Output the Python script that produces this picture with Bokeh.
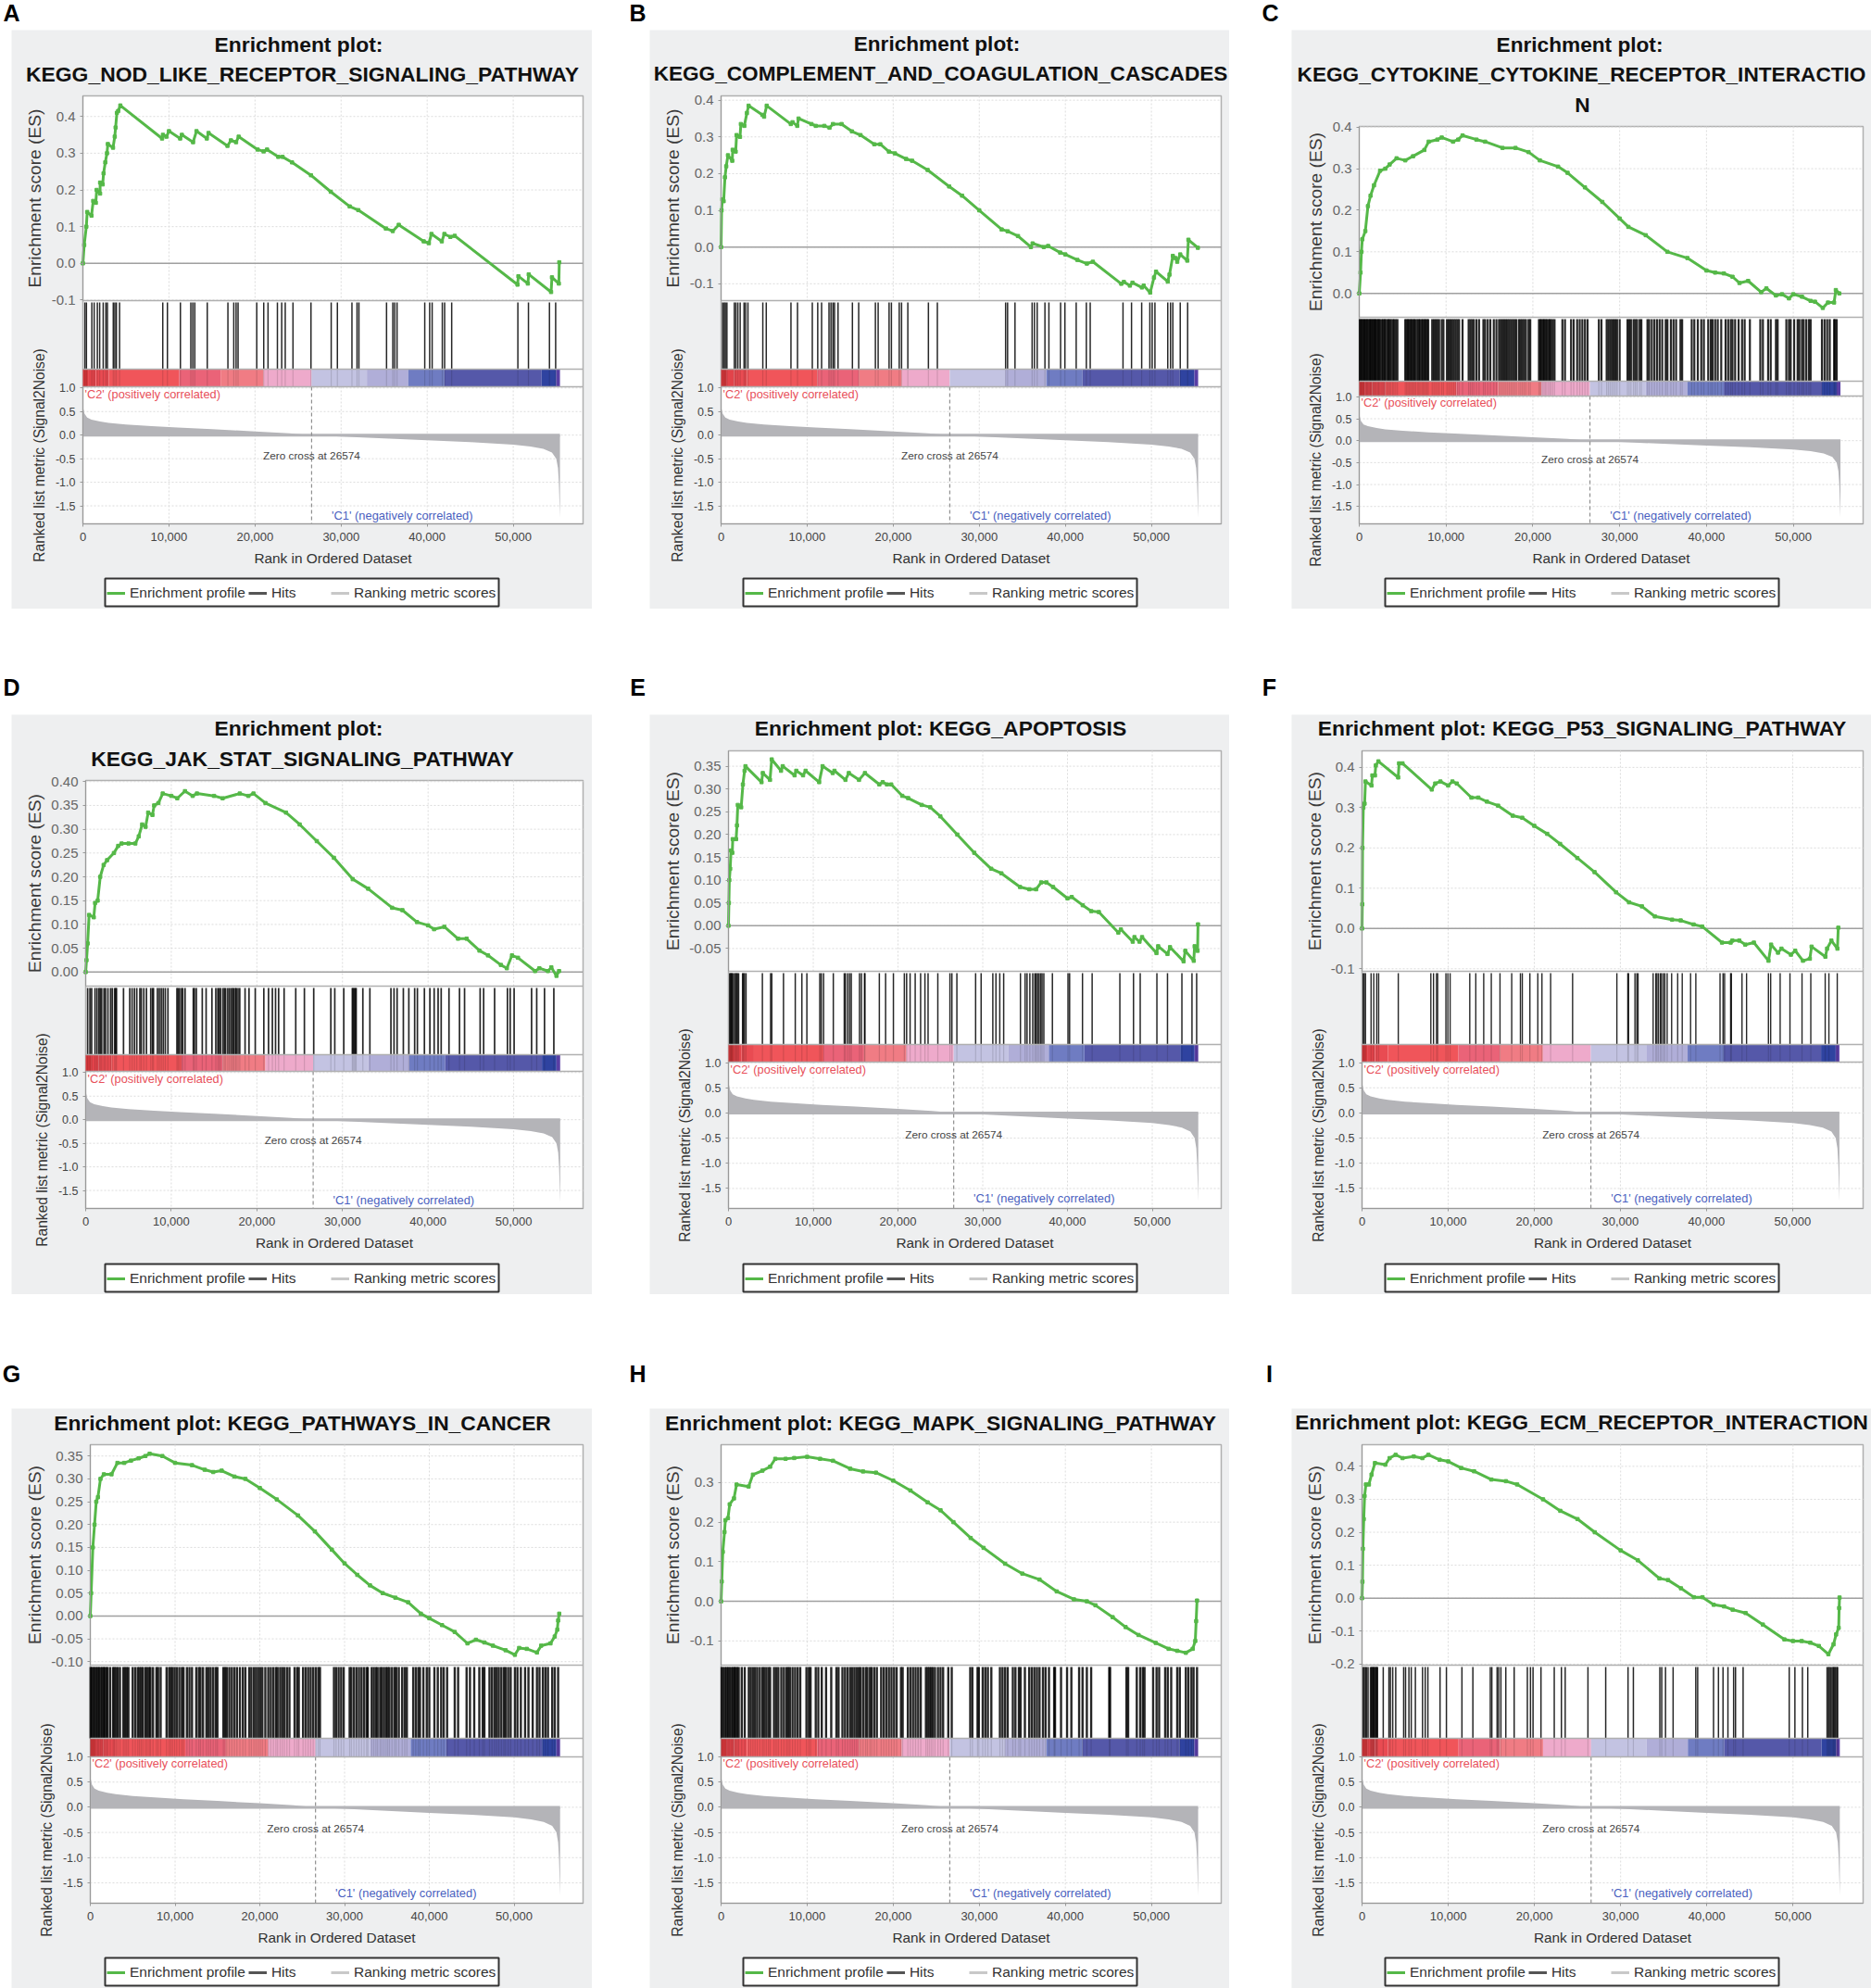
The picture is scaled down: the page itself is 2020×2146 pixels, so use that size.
from bokeh.embed import file_html
from bokeh.layouts import column, row
from bokeh.models import (FixedTicker, Label, Legend, LegendItem, LinearAxis,
                          NumeralTickFormatter, Range1d, Spacer)
from bokeh.plotting import figure
from bokeh.resources import INLINE
from bokeh.core.properties import value

FONT = "Liberation Sans"

# enrichment profile of each panel, (rank, ES)
es_a = [(0,0),(150,0.05),(400,0.10),(500,0.14),(1000,0.13),(1200,0.17),(1500,0.165),(1600,0.2),(2000,0.19),(2000,0.22),(2300,0.215),(2400,0.245),(2600,0.275),(2800,0.30),(2900,0.325),(3500,0.315),(3700,0.345),(3800,0.37),(3950,0.41),(4100,0.415),(4350,0.43),(9200,0.34),(9300,0.35),(9700,0.345),(10000,0.36),(11300,0.34),(11500,0.35),(12800,0.33),(13200,0.36),(14400,0.34),(14600,0.355),(16800,0.32),(17200,0.335),(17800,0.33),(18100,0.345),(20300,0.31),(21000,0.305),(21400,0.31),(22700,0.29),(23200,0.29),(24300,0.275),(26500,0.24),(28800,0.195),(31000,0.155),(32000,0.145),(35200,0.095),(36000,0.088),(36700,0.105),(39600,0.06),(40200,0.055),(40500,0.08),(41700,0.06),(42000,0.08),(42700,0.072),(43200,0.075),(50500,-0.058),(50600,-0.035),(51700,-0.055),(51800,-0.03),(54400,-0.078),(54500,-0.038),(55300,-0.055),(55350,0.003)]
es_b = [(0,0),(60,0.1),(150,0.13),(300,0.125),(450,0.19),(600,0.22),(800,0.25),(1300,0.235),(1350,0.265),(1700,0.26),(1800,0.305),(2200,0.30),(2300,0.335),(2700,0.33),(3000,0.365),(3200,0.385),(4800,0.36),(5000,0.355),(5300,0.385),(8100,0.335),(8300,0.34),(8850,0.33),(9000,0.35),(10500,0.335),(11000,0.33),(12000,0.33),(12600,0.325),(13000,0.335),(14000,0.335),(15200,0.315),(16200,0.305),(17800,0.28),(18500,0.28),(19500,0.26),(20200,0.255),(21500,0.24),(22200,0.235),(24000,0.21),(26500,0.165),(28000,0.14),(30000,0.10),(32600,0.048),(33300,0.043),(34500,0.03),(36000,0.0),(36200,0.01),(37500,0.0),(38000,0.003),(39400,-0.015),(40000,-0.02),(41400,-0.035),(42500,-0.045),(43200,-0.04),(46500,-0.10),(46800,-0.095),(47500,-0.105),(47800,-0.097),(48900,-0.11),(49100,-0.105),(49860,-0.124),(50300,-0.083),(50540,-0.067),(51900,-0.094),(52100,-0.075),(52490,-0.024),(52800,-0.03),(53000,-0.04),(53350,-0.02),(54170,-0.037),(54300,0.02),(55400,-0.002)]
es_c = [(0,0),(150,0.05),(250,0.10),(350,0.13),(700,0.15),(1000,0.21),(1300,0.235),(1700,0.26),(2400,0.295),(3000,0.30),(3500,0.31),(4300,0.325),(5300,0.32),(6200,0.33),(7500,0.345),(8000,0.365),(9000,0.37),(9500,0.375),(10800,0.365),(11400,0.37),(11900,0.38),(13500,0.37),(14500,0.365),(16500,0.35),(18000,0.35),(19500,0.34),(20800,0.32),(22900,0.305),(24000,0.29),(26000,0.255),(28000,0.22),(30000,0.18),(31000,0.16),(33000,0.14),(35500,0.1),(37800,0.085),(40000,0.055),(41000,0.05),(42000,0.048),(43000,0.04),(43800,0.025),(44800,0.03),(46300,0.003),(46900,0.012),(48000,-0.005),(48700,-0.002),(49500,-0.012),(50000,-0.002),(51000,-0.008),(52000,-0.018),(52500,-0.02),(53400,-0.035),(54000,-0.022),(54700,-0.022),(54900,0.008),(55300,0.0)]
es_d = [(0,0),(100,0.025),(230,0.06),(400,0.12),(950,0.115),(1100,0.145),(1400,0.15),(1700,0.20),(2100,0.225),(2500,0.235),(3300,0.25),(3800,0.265),(4200,0.27),(5000,0.27),(5800,0.27),(6200,0.285),(6600,0.31),(7000,0.305),(7300,0.335),(7800,0.33),(8000,0.35),(8500,0.355),(9000,0.375),(10000,0.37),(10700,0.365),(11600,0.38),(12500,0.37),(13000,0.375),(15000,0.37),(16000,0.365),(18000,0.375),(19000,0.37),(19600,0.375),(21000,0.355),(23400,0.335),(25000,0.31),(27000,0.275),(29000,0.24),(31200,0.195),(33000,0.175),(35800,0.135),(37000,0.13),(38700,0.105),(40000,0.098),(40700,0.09),(41900,0.095),(43500,0.07),(44500,0.07),(46000,0.045),(47000,0.035),(48500,0.015),(49200,0.008),(49800,0.035),(50500,0.03),(52500,0.002),(53000,0.008),(54000,0.002),(54400,0.01),(55000,-0.008),(55300,0.002)]
es_e = [(0,0),(50,0.05),(100,0.10),(200,0.125),(300,0.165),(450,0.16),(500,0.19),(900,0.19),(1000,0.22),(1100,0.265),(1500,0.26),(1700,0.31),(1900,0.34),(2000,0.35),(3900,0.315),(4050,0.335),(4900,0.32),(5100,0.365),(6200,0.34),(6400,0.35),(7800,0.33),(8000,0.34),(8800,0.33),(9100,0.34),(10700,0.315),(11100,0.35),(12300,0.335),(12500,0.34),(13800,0.32),(14200,0.335),(15400,0.32),(16100,0.335),(17800,0.31),(18200,0.315),(18700,0.31),(19200,0.31),(20500,0.285),(21200,0.28),(22800,0.265),(23800,0.26),(25000,0.24),(27000,0.20),(29000,0.16),(31000,0.125),(32200,0.115),(34400,0.085),(35500,0.08),(36300,0.08),(36900,0.095),(37500,0.095),(38300,0.085),(40000,0.06),(40500,0.063),(41800,0.045),(42800,0.032),(43700,0.03),(46000,-0.015),(46300,-0.008),(47700,-0.035),(47900,-0.025),(48500,-0.035),(48800,-0.025),(50500,-0.06),(50700,-0.045),(51800,-0.062),(52100,-0.047),(53700,-0.078),(53900,-0.055),(54900,-0.077),(55000,-0.045),(55350,-0.055),(55400,0.003)]
es_f = [(0,0),(30,0.06),(60,0.2),(150,0.3),(300,0.31),(400,0.365),(1100,0.355),(1200,0.38),(1500,0.38),(1600,0.405),(1900,0.415),(4200,0.375),(4300,0.41),(4700,0.41),(8100,0.345),(8500,0.36),(9100,0.365),(10000,0.355),(10500,0.365),(11000,0.36),(12700,0.325),(13500,0.325),(14500,0.315),(15800,0.305),(17500,0.28),(18600,0.275),(20000,0.255),(21500,0.235),(23000,0.21),(25000,0.175),(27000,0.14),(29500,0.09),(31000,0.065),(32500,0.055),(34000,0.03),(36000,0.022),(37000,0.02),(38500,0.01),(39500,0.005),(41800,-0.035),(42800,-0.035),(43000,-0.03),(43800,-0.03),(44500,-0.04),(45500,-0.035),(47200,-0.08),(47500,-0.04),(48300,-0.06),(48700,-0.05),(49800,-0.065),(50300,-0.055),(51200,-0.08),(52000,-0.075),(52200,-0.045),(53800,-0.07),(54000,-0.05),(54500,-0.03),(55200,-0.05),(55300,0.002)]
es_g = [(0,0),(100,0.05),(300,0.15),(500,0.20),(700,0.25),(900,0.26),(1200,0.30),(1600,0.31),(2500,0.31),(3200,0.335),(4000,0.335),(4800,0.34),(5700,0.345),(6500,0.35),(7000,0.355),(8500,0.35),(10000,0.335),(12000,0.33),(13500,0.32),(14500,0.315),(15500,0.318),(17000,0.305),(18300,0.30),(20000,0.28),(22000,0.255),(24500,0.22),(26500,0.185),(28500,0.145),(30000,0.115),(31500,0.09),(33000,0.067),(34500,0.05),(36000,0.04),(37500,0.03),(39000,0.005),(40000,-0.005),(41500,-0.02),(43000,-0.035),(44500,-0.06),(45500,-0.052),(46500,-0.058),(47500,-0.065),(49000,-0.075),(50100,-0.085),(50600,-0.07),(51500,-0.072),(52700,-0.08),(53200,-0.065),(54300,-0.06),(54800,-0.045),(55100,-0.03),(55200,-0.01),(55330,0.005)]
es_h = [(0,0),(80,0.05),(200,0.125),(400,0.175),(500,0.205),(800,0.21),(1000,0.245),(1500,0.26),(1800,0.295),(3200,0.29),(3700,0.32),(4800,0.33),(5700,0.34),(6300,0.36),(7500,0.36),(8500,0.362),(10000,0.365),(11500,0.36),(13000,0.355),(15000,0.335),(16500,0.328),(18000,0.325),(20000,0.305),(22000,0.28),(24000,0.25),(25500,0.23),(27000,0.20),(29000,0.16),(30500,0.135),(33000,0.095),(35000,0.07),(37000,0.055),(39000,0.025),(41000,0.005),(42500,0.0),(43500,-0.01),(45500,-0.04),(47000,-0.065),(48500,-0.085),(50500,-0.105),(52000,-0.12),(53000,-0.125),(54000,-0.13),(54800,-0.12),(55100,-0.10),(55200,-0.05),(55300,0.002)]
es_i = [(0,0),(50,0.05),(100,0.15),(200,0.24),(300,0.31),(450,0.345),(800,0.345),(1100,0.375),(1500,0.41),(2700,0.405),(3200,0.425),(3900,0.435),(4700,0.425),(6000,0.43),(7000,0.425),(7700,0.435),(9000,0.42),(10000,0.415),(11500,0.395),(13000,0.385),(15000,0.36),(16700,0.355),(18000,0.345),(21000,0.30),(23000,0.265),(25000,0.24),(27000,0.20),(30000,0.145),(32000,0.115),(34500,0.06),(35500,0.055),(37000,0.03),(38500,0.003),(39500,0.003),(40800,-0.02),(42000,-0.025),(43000,-0.035),(44500,-0.045),(46500,-0.08),(49000,-0.125),(50000,-0.13),(51000,-0.13),(52000,-0.135),(53000,-0.145),(54100,-0.17),(54700,-0.14),(55000,-0.11),(55300,-0.09),(55350,-0.03),(55400,0.002)]

# hit positions of each panel
hits_a = [230,410,1040,1310,1680,1950,2360,2670,2850,3530,3710,3890,4260,9280,9820,11330,12540,12770,13000,14450,16850,17530,17800,18030,20200,21010,21510,22600,23100,23510,24410,26500,28850,29570,31260,31850,32070,35280,36010,36230,36500,39720,40290,40580,41760,42030,42850,50540,51770,54210,54930]
hits_b = [180,360,500,680,1540,1720,1950,2220,2670,2850,3120,4850,5250,8120,8880,10600,11230,11680,12540,12770,13000,13180,13590,15260,15990,17930,18250,19520,19790,20700,20970,21700,24090,25130,33060,33290,34150,36140,36410,36730,37630,38090,39450,39950,41260,42440,42890,46700,47690,48870,49820,50090,50410,51900,52220,52490,53350,54210]
hits_c = [60,200,300,450,560,700,850,950,1100,1250,1350,1500,1600,1750,1850,2000,2150,2250,2400,2600,2750,2900,3000,3200,3350,3500,3650,3850,4000,4200,4400,5300,5450,5600,5750,5900,6050,6200,6350,6500,6700,6850,7000,7200,7350,7500,7650,7800,7950,8400,8600,8800,9000,9200,9500,9700,10100,10300,10500,10700,10900,11100,11300,11500,11900,12600,12800,13000,13200,13500,13800,14300,14500,14800,15100,15500,15800,16100,16300,16500,16700,16900,17100,17300,17500,17700,17900,18100,18400,18600,18800,19000,19200,19500,19700,20700,20850,21000,21150,21300,21450,21600,21800,21950,22100,22300,22500,23400,23700,24400,24700,25100,25400,25700,26000,26300,27600,27900,28500,28700,28900,29100,29300,29500,29700,30000,30900,31100,31300,31600,31800,32000,32300,32500,33200,33400,33700,34000,34300,34600,34900,35300,35500,35900,36200,36500,37000,37200,38300,38600,39000,39400,39700,40200,40500,40700,41000,41300,41700,42200,42500,42800,43000,43300,43700,44100,44400,45000,46200,46500,47100,47400,48000,48200,49200,49500,49700,50100,50500,50700,51000,51200,51500,51800,52000,53300,53600,53900,54200,54700,54800,55000]
hits_d = [230,500,700,1090,1320,1550,1700,1870,2140,2320,2600,2910,3100,3370,3500,3600,4420,5150,5420,5700,5970,6330,6500,6790,7100,7600,7800,7920,8380,8600,8830,9060,9300,9610,10660,10800,10970,11200,11340,11610,12570,12700,12930,13620,14070,14750,15200,15440,15600,15760,16030,16200,16350,16600,16800,17000,17170,17300,17490,17600,17800,18000,18620,19080,19810,20810,21360,21810,22180,22540,23180,24540,25550,26640,28640,29100,30150,31150,31250,31380,31500,31600,32380,33200,35660,36020,36380,37110,37750,38430,38750,39570,40210,40710,41170,41530,42440,43670,44260,46080,46490,47770,49270,49590,50050,52090,52690,53600,54690]
hits_e = [140,250,320,420,510,700,830,950,1060,1200,1660,1750,1890,2070,4000,4970,5110,6490,7880,8660,9250,10770,10950,11220,12370,13660,13800,14070,14300,14490,15460,15690,16050,16100,17800,18540,19460,20750,21020,21430,22030,22670,23180,23550,24700,26130,26360,26950,29160,29810,31190,31560,32010,32470,34450,35000,35230,35560,35900,36150,36300,36470,36650,36840,37000,37210,38220,40060,40250,41770,42910,46180,47790,48580,50550,51800,53500,54690,55240]
hits_f = [130,260,400,1050,1360,1710,1930,4210,7990,8300,8650,8780,9740,9970,10230,12510,13210,14130,15010,16020,17380,18390,18610,19490,20410,20890,21900,24450,29590,30860,30950,31690,31910,32050,33800,34110,34240,34420,34640,34770,34990,35160,35430,35950,36650,37180,38150,38760,41570,41920,42100,42800,42890,44120,44650,47190,47450,48550,49690,51090,52110,53780,54210,55180]
hits_g = [30,180,350,520,700,880,1020,1220,1400,1560,1700,1900,2050,2350,2700,2850,3050,3250,3500,3900,4100,4300,4500,5000,5300,5600,5800,6000,6200,6500,6700,6950,7100,7400,7800,8000,8300,9000,9300,9500,9700,9950,10200,10500,10800,11000,11400,11700,12000,12500,12800,13000,13300,13700,13950,14200,14500,14800,15000,15700,15900,16100,16400,16700,17000,17300,17650,18000,18300,18750,19000,19300,19550,19800,20050,20300,20650,21000,21300,21600,21900,22100,22400,22650,22900,23200,23500,24100,24400,24600,25100,25400,25700,26000,26300,26600,26900,27100,28750,29000,29300,29600,29900,30600,30800,31100,31400,31700,32000,32300,32600,32750,33200,33450,33700,33900,34200,34400,34650,34900,35100,35300,35600,35900,36100,36400,36800,37100,37350,38100,38400,38700,38900,39300,39700,40000,40600,41000,41400,41700,42100,43000,43400,44400,44800,45300,45900,46300,46500,47100,47400,47700,47950,48200,48500,48800,49000,49300,49600,50100,50400,50800,51300,51700,52200,52700,53000,53400,53700,54000,54500,54800,55200]
hits_h = [60,250,480,650,830,1000,1220,1400,1550,1700,1880,2050,2400,2750,3220,3450,3700,3950,4200,4500,4800,5000,5250,5500,5700,6150,6400,6650,7000,7300,7600,7800,8000,8300,8600,8900,9200,9920,10200,10400,11000,11300,11700,12200,12800,13400,13650,14100,14400,14700,15000,15250,15500,15750,16000,16200,16500,16800,17000,17300,17500,17800,18100,18600,18900,19200,19500,19800,20100,20400,20900,21100,21700,22000,22300,22600,22900,23200,23800,24000,24200,24400,24600,24850,25200,25500,25800,26400,26800,28950,29200,29800,29950,30400,30700,31000,31400,32400,32700,33000,33300,33900,34200,34600,34800,35300,35800,36100,36400,36700,37000,37400,37700,38100,38700,38800,39500,40200,40700,41600,42000,42500,43000,45100,45200,47100,47300,48300,48700,49000,49200,50200,50600,50900,51600,51900,52300,53000,53300,54000,54300,54650,54900,55300]
hits_i = [130,260,400,530,700,970,1100,1150,1270,1350,1400,1540,1620,1710,1800,2460,3120,3290,3560,3910,4830,5050,5440,5710,6190,7020,7330,7640,9050,9790,11590,12860,14880,15060,15670,15850,16110,16680,17650,19180,19540,19840,20760,22300,23130,23570,26210,28270,30860,31480,34550,34770,35210,36090,38720,38940,40780,41350,41880,42450,43110,43330,44210,49560,50220,51090,51710,53950,54100,54210,54350,54520,54650,54740,54850,54960,55100,55180]

# colour band, the same in all panels
band_edges = [0,600,1500,3000,11200,16000,21000,26574,33000,37800,42000,53300,55000,55430]
band_colors = ["#d8383c","#e2434a","#e94b52","#f0555a","#ea6378","#f07c84","#eeaacb","#c3c3e2","#b0aed8","#6f7cc2","#5558a9","#2f43a0","#5a3fa5"]

# ranked list metric, the same in all panels
metric_rank = [0,200,500,1000,2000,3000,5000,8000,11000,15000,20000,24000,26574,30000,35000,40000,45000,50000,52000,53500,54500,55000,55200,55300,55430]
metric_val = [0.6,0.45,0.37,0.33,0.29,0.26,0.225,0.19,0.16,0.125,0.08,0.04,0.0,-0.03,-0.07,-0.11,-0.15,-0.2,-0.24,-0.29,-0.37,-0.5,-0.7,-1.0,-1.75]

metric_ticks = [1.0,0.5,0.0,-0.5,-1.0,-1.5]
rank_ticks = [0,10000,20000,30000,40000,50000]
ZERO_CROSS = 26574

# layout of each panel in picture pixels: box is the grey card, the frame edges
# and section lines are y positions, es0/es_scale and m0/m_scale calibrate the y axes
panels = [
    dict(es=es_a, hits=hits_a, hit_w=1.5, title_size="22.9px", titles=[("Enrichment plot:", 47, 322), ("KEGG_NOD_LIKE_RECEPTOR_SIGNALING_PATHWAY", 79, 326)],
         box=(12,32,639,657), left=89, right=629, top=103, es_b=324, hit_b=398, band_b=417, rank_b=565, px50k=464.6,
         es0=283.8, es_scale=396.4, m0=469.2, m_scale=50.9, es_ticks=[-0.1,0,0.1,0.2,0.3,0.4], es_fmt="0.0", es_lab=52),
    dict(es=es_b, hits=hits_b, hit_w=1.5, title_size="22.6px", titles=[("Enrichment plot:", 47, 1011), ("KEGG_COMPLEMENT_AND_COAGULATION_CASCADES", 79, 1015)],
         box=(701,32,1327,657), left=778, right=1318, top=103, es_b=324, hit_b=398, band_b=417, rank_b=565, px50k=464.6,
         es0=266.2, es_scale=396.4, m0=469.2, m_scale=50.9, es_ticks=[-0.1,0,0.1,0.2,0.3,0.4], es_fmt="0.0", es_lab=52),
    dict(es=es_c, hits=hits_c, hit_w=2.2, title_size="22.65px", titles=[("Enrichment plot:", 47, 1705), ("KEGG_CYTOKINE_CYTOKINE_RECEPTOR_INTERACTIO", 79, 1707), ("N", 112, 1708)],
         box=(1394,32,2020,657), left=1467, right=2011, top=136, es_b=342, hit_b=411, band_b=427, rank_b=565, px50k=468.6,
         es0=316.2, es_scale=448.7, m0=475.2, m_scale=47.35, es_ticks=[0,0.1,0.2,0.3,0.4], es_fmt="0.0", es_lab=47),
    dict(es=es_d, hits=hits_d, hit_w=1.7, title_size="22.9px", titles=[("Enrichment plot:", 785.6, 322), ("KEGG_JAK_STAT_SIGNALING_PATHWAY", 818.5, 326)],
         box=(12,771,639,1397), left=92, right=629, top=842, es_b=1064, hit_b=1138, band_b=1156, rank_b=1304, px50k=462.1,
         es0=1048.8, es_scale=513.9, m0=1208.2, m_scale=50.9, es_ticks=[0,0.05,0.1,0.15,0.2,0.25,0.3,0.35,0.4], es_fmt="0.00", es_lab=55),
    dict(es=es_e, hits=hits_e, hit_w=1.5, title_size="22.9px", titles=[("Enrichment plot: KEGG_APOPTOSIS", 785.6, 1015)],
         box=(701,771,1327,1397), left=786, right=1318, top=810, es_b=1048, hit_b=1127, band_b=1146, rank_b=1304, px50k=457.5,
         es0=998.8, es_scale=492, m0=1200.9, m_scale=54.36, es_ticks=[-0.05,0,0.05,0.1,0.15,0.2,0.25,0.3,0.35], es_fmt="0.00", es_lab=60),
    dict(es=es_f, hits=hits_f, hit_w=1.4, title_size="22.9px", titles=[("Enrichment plot: KEGG_P53_SIGNALING_PATHWAY", 785.6, 1707.5)],
         box=(1394,771,2020,1397), left=1470, right=2011, top=810, es_b=1048, hit_b=1127, band_b=1146, rank_b=1304, px50k=464.9,
         es0=1001.8, es_scale=434.8, m0=1200.9, m_scale=54.36, es_ticks=[-0.1,0,0.1,0.2,0.3,0.4], es_fmt="0.0", es_lab=51),
    dict(es=es_g, hits=hits_g, hit_w=2.4, title_size="22.8px", titles=[("Enrichment plot: KEGG_PATHWAYS_IN_CANCER", 1535, 326)],
         box=(12,1520,639,2146), left=97, right=629, top=1559, es_b=1797, hit_b=1876, band_b=1896, rank_b=2054, px50k=457.5,
         es0=1743.9, es_scale=493.3, m0=1950.4, m_scale=54.36, es_ticks=[-0.1,-0.05,0,0.05,0.1,0.15,0.2,0.25,0.3,0.35], es_fmt="0.00", es_lab=60),
    dict(es=es_h, hits=hits_h, hit_w=2.4, title_size="22.8px", titles=[("Enrichment plot: KEGG_MAPK_SIGNALING_PATHWAY", 1535, 1015)],
         box=(701,1520,1327,2146), left=778, right=1318, top=1559, es_b=1797, hit_b=1876, band_b=1896, rank_b=2054, px50k=464.6,
         es0=1728.1, es_scale=427.4, m0=1950.4, m_scale=54.36, es_ticks=[-0.1,0,0.1,0.2,0.3], es_fmt="0.0", es_lab=52),
    dict(es=es_i, hits=hits_i, hit_w=1.5, title_size="22.55px", titles=[("Enrichment plot: KEGG_ECM_RECEPTOR_INTERACTION", 1535, 1707)],
         box=(1394,1520,2020,2146), left=1470, right=2011, top=1559, es_b=1797, hit_b=1876, band_b=1896, rank_b=2054, px50k=465.3,
         es0=1724.7, es_scale=355.8, m0=1950.4, m_scale=54.36, es_ticks=[-0.2,-0.1,0,0.1,0.2,0.3,0.4], es_fmt="0.0", es_lab=51),
]

# panel letters per strip above a row of panels: strip top, strip height, letters
letters = [
    (0, 32, ["A","B","C"], [12,688,1371], 13),
    (657, 114, ["D","E","F"], [12,688,1370], 741),
    (1397, 123, ["G","H","I"], [12,688,1370], 1482),
]

GUIDE = "#999999"
GRID = "#dcdcdc"
METRIC = "#b4b4b8"


def make_panel(c):
    x0, y0, x1, y1 = c["box"]
    top, bot = c["top"], c["rank_b"]
    per_px = 50000 / c["px50k"]
    x_end = (c["right"] - c["left"]) * per_px
    # the frame fills the whole grey card, so texts and axes outside the white area are not clipped
    p = figure(width=x1-x0, height=y1-y0, frame_width=x1-x0, frame_height=y1-y0, min_border=0,
               x_range=Range1d((x0-c["left"])*per_px, (x1-c["left"])*per_px),
               y_range=Range1d(y1, y0), x_axis_location=None, y_axis_location=None,
               toolbar_location=None, output_backend="svg",
               background_fill_color="#eeeff0", border_fill_color="#eeeff0", outline_line_color=None)
    p.xgrid.visible = False
    p.ygrid.visible = False

    # picture pixels for the x positions of texts
    p.extra_x_ranges["page"] = Range1d(x0, x1)
    p.extra_y_ranges["es"] = Range1d((c["es0"]-y1)/c["es_scale"], (c["es0"]-y0)/c["es_scale"])
    p.extra_y_ranges["metric"] = Range1d((c["m0"]-y1)/c["m_scale"], (c["m0"]-y0)/c["m_scale"])

    # white plot area
    p.quad(left=0, right=x_end, top=top, bottom=bot, fill_color="white", line_color="#b0b0b0", line_width=1.5)

    # x axis
    ax = LinearAxis(fixed_location=bot, ticker=FixedTicker(ticks=rank_ticks), formatter=NumeralTickFormatter(format="0,0"),
                    bounds=(0, x_end), axis_label="Rank in Ordered Dataset", axis_label_text_font=FONT,
                    axis_label_text_font_size="15.4px", axis_label_text_font_style="normal", axis_label_text_color="#333333",
                    axis_label_standoff=7, major_label_text_font=FONT, major_label_text_font_size="13px",
                    major_label_text_color="#444444", major_label_standoff=6, major_tick_in=0, major_tick_out=3,
                    minor_tick_line_color=None, axis_line_color=GUIDE, major_tick_line_color=GUIDE)
    p.add_layout(ax, "below")

    # y axes, fixed at rank 0
    es_axis = LinearAxis(y_range_name="es", fixed_location=0, ticker=FixedTicker(ticks=c["es_ticks"]),
                         formatter=NumeralTickFormatter(format=c["es_fmt"]),
                         bounds=((c["es0"]-c["es_b"])/c["es_scale"], (c["es0"]-top)/c["es_scale"]),
                         major_label_text_font=FONT, major_label_text_font_size="15px", major_label_text_color="#666666",
                         major_label_standoff=5, major_tick_in=0, major_tick_out=3, minor_tick_line_color=None,
                         axis_line_color=GUIDE, major_tick_line_color=GUIDE)
    p.add_layout(es_axis, "left")
    m_axis = LinearAxis(y_range_name="metric", fixed_location=0, ticker=FixedTicker(ticks=metric_ticks),
                        formatter=NumeralTickFormatter(format="0.0"),
                        bounds=((c["m0"]-bot)/c["m_scale"], (c["m0"]-c["band_b"])/c["m_scale"]),
                        major_label_text_font=FONT, major_label_text_font_size="12.5px", major_label_text_color="#444444",
                        major_label_standoff=5, major_tick_in=0, major_tick_out=3, minor_tick_line_color=None,
                        axis_line_color=GUIDE, major_tick_line_color=GUIDE)
    p.add_layout(m_axis, "left")

    # grid
    p.segment(x0=0, x1=x_end, y0=c["es_ticks"], y1=c["es_ticks"], y_range_name="es", line_color=GRID, line_dash="2 2")
    p.segment(x0=0, x1=x_end, y0=metric_ticks, y1=metric_ticks, y_range_name="metric", line_color=GRID, line_dash="2 2")
    for a, b in ((top, c["es_b"]), (c["band_b"], bot)):
        p.segment(x0=rank_ticks[1:], x1=rank_ticks[1:], y0=a, y1=b, line_color=GRID, line_dash="2 2")

    # rank metric and zero cross
    p.varea(x=metric_rank, y1=metric_val, y2=0, y_range_name="metric", fill_color=METRIC)
    p.segment(x0=0, x1=metric_rank[-1], y0=0, y1=0, y_range_name="metric", line_color=METRIC, line_width=3)
    p.segment(x0=ZERO_CROSS, x1=ZERO_CROSS, y0=c["band_b"], y1=bot, line_color="#909090", line_dash="4 3", line_width=1.2)

    # colour band
    p.quad(left=band_edges[:-1], right=band_edges[1:], bottom=c["band_b"], top=c["hit_b"],
           fill_color=band_colors, line_color=None)
    p.segment(x0=c["hits"], x1=c["hits"], y0=c["hit_b"], y1=c["band_b"], line_color="#000000", line_alpha=0.13, line_width=1.2)

    # hits
    p.segment(x0=c["hits"], x1=c["hits"], y0=c["es_b"]+2, y1=c["hit_b"], line_color="#000000", line_alpha=0.85, line_width=c["hit_w"])

    # section lines
    for y in (c["es_b"], c["hit_b"], c["band_b"]):
        p.segment(x0=0, x1=x_end, y0=y, y1=y, line_color="#b0b0b0", line_width=1.5)

    # enrichment profile
    es_x = [q[0] for q in c["es"]]
    es_y = [q[1] for q in c["es"]]
    p.segment(x0=0, x1=x_end, y0=0, y1=0, y_range_name="es", line_color="#a0a0a0", line_width=1.5)
    es_r = p.line(es_x, es_y, y_range_name="es", line_color="#55b848", line_width=3)
    p.scatter(es_x, es_y, y_range_name="es", marker="square", size=3.5, color="#55b848")

    # band labels
    p.add_layout(Label(x=c["left"]+2, y=c["m0"]-0.87*c["m_scale"], x_range_name="page", text="'C2' (positively correlated)",
                       text_font=FONT, text_font_size="12.8px", text_color="#e8505a", text_baseline="middle"))
    p.add_layout(Label(x=28900, y=-1.70, y_range_name="metric", text="'C1' (negatively correlated)",
                       text_font=FONT, text_font_size="12.9px", text_color="#4a5fc0", text_baseline="middle"))
    p.add_layout(Label(x=ZERO_CROSS, y=-0.43, y_range_name="metric", text="Zero cross at %d" % ZERO_CROSS,
                       text_font=FONT, text_font_size="11.8px", text_color="#444444", text_align="center", text_baseline="middle"))

    # y axis titles
    p.add_layout(Label(x=c["left"]-c["es_lab"], y=(top+c["es_b"])/2, x_range_name="page", text="Enrichment score (ES)", angle=90, angle_units="deg",
                       text_font=FONT, text_font_size="19.2px", text_color="#3a3a3a", text_align="center", text_baseline="middle"))
    p.add_layout(Label(x=c["left"]-47.5, y=(c["band_b"]+bot)/2, x_range_name="page", text="Ranked list metric (Signal2Noise)", angle=90, angle_units="deg",
                       text_font=FONT, text_font_size="15.6px", text_color="#333333", text_align="center", text_baseline="middle"))

    # panel titles
    for text, ty, tx in c["titles"]:
        p.add_layout(Label(x=tx, y=ty, x_range_name="page", text=text, text_font=FONT, text_font_size=c["title_size"],
                           text_font_style="bold", text_color="#111111", text_align="center", text_baseline="middle"))

    # legend box at the bottom of the card, two legends so that the gaps match
    p.quad(left=x0+101, right=x0+526, top=y1-33, bottom=y1-3, x_range_name="page",
           fill_color="white", line_color="#333333", line_width=2)
    hit_key = p.line([float("nan")]*2, [float("nan")]*2, line_color="#555555", line_width=3)
    metric_key = p.line([float("nan")]*2, [float("nan")]*2, line_color="#c8c8c8", line_width=3)
    style = dict(orientation="horizontal", label_text_font=FONT, label_text_font_size="15.5px", label_text_color="#333333",
                 glyph_width=20, glyph_height=14, label_standoff=5, spacing=3, padding=4, margin=0,
                 border_line_color=None, background_fill_alpha=0)
    p.add_layout(Legend(items=[LegendItem(label="Enrichment profile", renderers=[es_r]),
                               LegendItem(label="Hits", renderers=[hit_key])],
                        location=(103, 8), **style))
    p.add_layout(Legend(items=[LegendItem(label="Ranking metric scores", renderers=[metric_key])],
                        location=(345, 8), **style))
    return p


def make_strip(strip):
    top, h, names, xs, y = strip
    s = figure(width=2020, height=h, x_range=Range1d(0, 2020), y_range=Range1d(top+h, top),
               x_axis_location=None, y_axis_location=None, toolbar_location=None, output_backend="svg",
               min_border=0, outline_line_color=None)
    s.xgrid.visible = False
    s.ygrid.visible = False
    s.text(x=xs, y=[y]*3, text=names, text_font=value(FONT), text_font_style="bold", text_font_size="25px",
           text_color="#000000", text_align="center", text_baseline="middle")
    return s


rows = []
for i, strip in enumerate(letters):
    rows.append(make_strip(strip))
    group = panels[i*3:i*3+3]
    kids = []
    prev = 0
    for c in group:
        kids.append(Spacer(width=c["box"][0]-prev, height=10))
        kids.append(make_panel(c))
        prev = c["box"][2]
    rows.append(row(kids, spacing=0))

p = column(rows, spacing=0)

open("out.html", "w").write(file_html(p, INLINE))
